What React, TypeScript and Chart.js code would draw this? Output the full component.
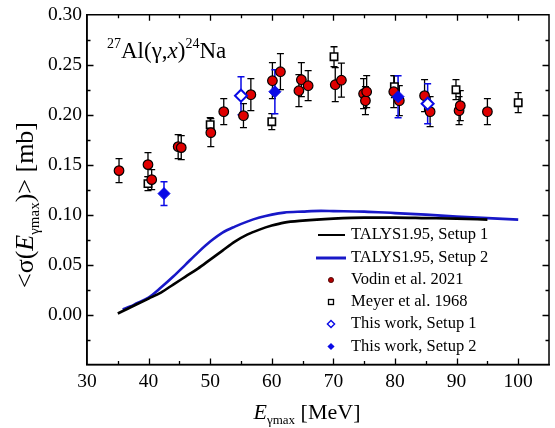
import React, { useEffect, useRef } from 'react';
import { Chart, registerables } from 'chart.js';

Chart.register(...registerables);

const FONT = '"Liberation Serif", "Times New Roman", serif';

// Axis ticks
const xTickValues = [30, 40, 50, 60, 70, 80, 90, 100];
const yTickValues = [-0.05, 0, 0.05, 0.1, 0.15, 0.2, 0.25, 0.3];

// TALYS1.95, Setup 1 (black curve)
const talys1E = [35, 36, 37, 38, 40, 42, 44, 46, 48, 50, 52, 54, 56, 58, 60, 62, 65, 70, 75, 80, 85, 90, 95];
const talys1V = [0.001, 0.004, 0.007, 0.010, 0.016, 0.022, 0.030, 0.038, 0.046, 0.055, 0.064, 0.073, 0.080, 0.085, 0.089, 0.092, 0.094, 0.096, 0.097, 0.097, 0.0965, 0.096, 0.095];

// TALYS1.95, Setup 2 (blue curve)
const talys2E = [35.8, 37, 38, 40, 42, 44, 46, 48, 50, 52, 54, 56, 58, 60, 62, 65, 68, 70, 75, 80, 85, 90, 95, 100];
const talys2V = [0.005, 0.008, 0.011, 0.017, 0.027, 0.038, 0.050, 0.062, 0.073, 0.082, 0.088, 0.093, 0.097, 0.100, 0.102, 0.103, 0.1037, 0.1035, 0.103, 0.1015, 0.100, 0.098, 0.0965, 0.095];

// Vodin et al. 2021
const vodinE = [35.2, 39.9, 40.5, 44.8, 45.3, 50.1, 52.2, 55.4, 56.6, 60.1, 61.4, 64.4, 64.8, 65.9, 70.3, 71.3, 74.9, 75.2, 75.4, 79.8, 80.7, 84.8, 85.7, 90.4, 90.6, 95.0];
const vodinV = [0.144, 0.150, 0.135, 0.168, 0.167, 0.182, 0.203, 0.199, 0.220, 0.234, 0.243, 0.224, 0.235, 0.229, 0.230, 0.2345, 0.221, 0.214, 0.223, 0.223, 0.214, 0.219, 0.203, 0.204, 0.209, 0.203];
const vodinErr = [0.012, 0.012, 0.010, 0.012, 0.012, 0.014, 0.013, 0.012, 0.016, 0.018, 0.018, 0.016, 0.017, 0.015, 0.017, 0.017, 0.015, 0.014, 0.016, 0.016, 0.015, 0.016, 0.015, 0.014, 0.015, 0.013];

// Meyer et al. 1968
const meyerE = [39.9, 50.0, 60.0, 70.1, 79.9, 89.9, 100.0];
const meyerV = [0.131, 0.190, 0.193, 0.258, 0.228, 0.225, 0.212];
const meyerErr = [0.007, 0.007, 0.008, 0.010, 0.011, 0.010, 0.010];

// This work, Setup 1
const setup1E = [55.0, 85.3];
const setup1V = [0.219, 0.211];
const setup1Err = [0.019, 0.020];

// This work, Setup 2
const setup2E = [42.5, 60.5, 80.5];
const setup2V = [0.121, 0.223, 0.218];
const setup2Err = [0.012, 0.022, 0.021];

const legendLabels = [
  'TALYS1.95, Setup 1',
  'TALYS1.95, Setup 2',
  'Vodin et al. 2021',
  'Meyer et al. 1968',
  'This work, Setup 1',
  'This work, Setup 2',
];

const RED = '#e00000';
const BLUE = '#0a0ae6';
const CURVE_BLUE = '#1818c8';

const pts = (xs: number[], ys: number[]) => xs.map((x, i) => ({ x, y: ys[i] }));

type Seg = { t: string; font: string; dy?: number };

function drawRich(ctx: CanvasRenderingContext2D, x: number, y: number, segs: Seg[], align: 'left' | 'center') {
  ctx.textBaseline = 'alphabetic';
  ctx.textAlign = 'left';
  let total = 0;
  for (const s of segs) {
    ctx.font = s.font;
    total += ctx.measureText(s.t).width;
  }
  let cx = align === 'center' ? x - total / 2 : x;
  for (const s of segs) {
    ctx.font = s.font;
    ctx.fillText(s.t, cx, y + (s.dy || 0));
    cx += ctx.measureText(s.t).width;
  }
}

const errorBarPlugin = {
  id: 'errorBars',
  beforeDatasetsDraw(chart: any) {
    const { ctx } = chart;
    const xs = chart.scales.x;
    const ys = chart.scales.y;
    chart.data.datasets.forEach((ds: any) => {
      if (!ds.errors) return;
      ctx.save();
      ctx.strokeStyle = ds.errorColor;
      ctx.lineWidth = ds.errorWidth;
      const cap = 3.5;
      ds.data.forEach((p: any, j: number) => {
        const px = xs.getPixelForValue(p.x);
        const y1 = ys.getPixelForValue(p.y + ds.errors[j]);
        const y2 = ys.getPixelForValue(p.y - ds.errors[j]);
        ctx.beginPath();
        ctx.moveTo(px, y1);
        ctx.lineTo(px, y2);
        ctx.moveTo(px - cap, y1);
        ctx.lineTo(px + cap, y1);
        ctx.moveTo(px - cap, y2);
        ctx.lineTo(px + cap, y2);
        ctx.stroke();
      });
      ctx.restore();
    });
  },
};

const framePlugin = {
  id: 'frameTicks',
  afterDatasetsDraw(chart: any) {
    const { ctx, chartArea } = chart;
    const { left, right, top, bottom } = chartArea;
    const xs = chart.scales.x;
    const ys = chart.scales.y;
    ctx.save();
    ctx.strokeStyle = '#000';
    ctx.lineWidth = 1.5;
    ctx.strokeRect(left, top, right - left, bottom - top);
    ctx.lineWidth = 1.3;
    ctx.beginPath();
    for (let v = 35; v < 105; v += 5) {
      const major = v % 10 === 0;
      const len = major ? 6 : 3.5;
      const px = Math.round(xs.getPixelForValue(v)) + 0.5;
      ctx.moveTo(px, bottom);
      ctx.lineTo(px, bottom - len);
      ctx.moveTo(px, top);
      ctx.lineTo(px, top + len);
    }
    for (let k = -1; k <= 11; k++) {
      const v = k * 0.025;
      const major = k % 2 === 0;
      const len = major ? 6.5 : 3.5;
      const py = Math.round(ys.getPixelForValue(v)) + 0.5;
      if (py <= top + 1 || py >= bottom - 1) continue;
      ctx.moveTo(left, py);
      ctx.lineTo(left + len, py);
      ctx.moveTo(right, py);
      ctx.lineTo(right - len, py);
    }
    ctx.stroke();
    ctx.restore();
  },
};

const textPlugin = {
  id: 'texts',
  afterDraw(chart: any) {
    const { ctx } = chart;
    ctx.save();
    ctx.fillStyle = '#000';

    // Reaction annotation
    drawRich(ctx, 107, 58, [
      { t: '27', font: `14px ${FONT}`, dy: -10 },
      { t: 'Al(γ,', font: `23px ${FONT}` },
      { t: 'x', font: `italic 23px ${FONT}` },
      { t: ')', font: `23px ${FONT}` },
      { t: '24', font: `14px ${FONT}`, dy: -10 },
      { t: 'Na', font: `23px ${FONT}` },
    ], 'left');

    // X axis title
    drawRich(ctx, 307, 419, [
      { t: 'E', font: `italic 22px ${FONT}` },
      { t: 'γmax', font: `13px ${FONT}`, dy: 5 },
      { t: ' [MeV]', font: `22px ${FONT}` },
    ], 'center');

    // Y axis title
    ctx.save();
    ctx.translate(33, 205);
    ctx.rotate(-Math.PI / 2);
    drawRich(ctx, 0, 0, [
      { t: '<σ(', font: `26px ${FONT}` },
      { t: 'E', font: `italic 26px ${FONT}` },
      { t: 'γmax', font: `15px ${FONT}`, dy: 6 },
      { t: ')> [mb]', font: `26px ${FONT}` },
    ], 'center');
    ctx.restore();

    // Legend
    const rows = [235, 258, 280, 302, 324, 346.5];
    const mx = 331;
    const tx = 351;
    ctx.textBaseline = 'middle';
    ctx.textAlign = 'left';
    ctx.font = `16.5px ${FONT}`;
    legendLabels.forEach((lab, i) => {
      ctx.fillStyle = '#000';
      ctx.fillText(lab, tx, rows[i]);
    });
    // line samples
    ctx.lineWidth = 2;
    ctx.strokeStyle = '#000';
    ctx.beginPath();
    ctx.moveTo(318, rows[0]);
    ctx.lineTo(345, rows[0]);
    ctx.stroke();
    ctx.lineWidth = 3;
    ctx.strokeStyle = CURVE_BLUE;
    ctx.beginPath();
    ctx.moveTo(316, rows[1]);
    ctx.lineTo(346, rows[1]);
    ctx.stroke();
    // red circle
    ctx.beginPath();
    ctx.arc(mx, rows[2], 2.6, 0, Math.PI * 2);
    ctx.fillStyle = '#b00000';
    ctx.fill();
    ctx.lineWidth = 0.8;
    ctx.strokeStyle = '#400000';
    ctx.stroke();
    // open square
    ctx.lineWidth = 1.3;
    ctx.strokeStyle = '#000';
    ctx.strokeRect(mx - 2.5, rows[3] - 2.5, 5, 5);
    // diamonds
    const diamond = (cy: number, r: number) => {
      ctx.beginPath();
      ctx.moveTo(mx, cy - r);
      ctx.lineTo(mx + r, cy);
      ctx.lineTo(mx, cy + r);
      ctx.lineTo(mx - r, cy);
      ctx.closePath();
    };
    diamond(rows[4], 3.6);
    ctx.lineWidth = 1.4;
    ctx.strokeStyle = BLUE;
    ctx.stroke();
    diamond(rows[5], 3.6);
    ctx.fillStyle = BLUE;
    ctx.fill();

    ctx.restore();
  },
};

export default function App() {
  const ref = useRef<HTMLCanvasElement | null>(null);

  useEffect(() => {
    if (!ref.current) return;
    const chart = new Chart(ref.current, {
      type: 'scatter',
      data: {
        datasets: [
          {
            label: legendLabels[0],
            data: pts(talys1E, talys1V),
            showLine: true,
            borderColor: '#000',
            borderWidth: 2.6,
            pointRadius: 0,
            cubicInterpolationMode: 'monotone',
            order: 5,
          } as any,
          {
            label: legendLabels[1],
            data: pts(talys2E, talys2V),
            showLine: true,
            borderColor: CURVE_BLUE,
            borderWidth: 2.6,
            pointRadius: 0,
            cubicInterpolationMode: 'monotone',
            order: 5,
          } as any,
          {
            label: legendLabels[2],
            data: pts(vodinE, vodinV),
            pointStyle: 'circle',
            pointRadius: 4.8,
            backgroundColor: RED,
            borderColor: '#000',
            borderWidth: 1.2,
            errors: vodinErr,
            errorColor: '#000',
            errorWidth: 1.3,
            order: 2,
          } as any,
          {
            label: legendLabels[3],
            data: pts(meyerE, meyerV),
            pointStyle: 'rect',
            pointRadius: 5.2,
            backgroundColor: '#fff',
            borderColor: '#000',
            borderWidth: 1.6,
            errors: meyerErr,
            errorColor: '#000',
            errorWidth: 1.3,
            order: 3,
          } as any,
          {
            label: legendLabels[4],
            data: pts(setup1E, setup1V),
            pointStyle: 'rectRot',
            pointRadius: 6,
            backgroundColor: '#fff',
            borderColor: BLUE,
            borderWidth: 2,
            errors: setup1Err,
            errorColor: BLUE,
            errorWidth: 1.5,
            order: 1,
          } as any,
          {
            label: legendLabels[5],
            data: pts(setup2E, setup2V),
            pointStyle: 'rectRot',
            pointRadius: 6,
            backgroundColor: BLUE,
            borderColor: BLUE,
            borderWidth: 1,
            errors: setup2Err,
            errorColor: BLUE,
            errorWidth: 1.5,
            order: 0,
          } as any,
        ],
      },
      options: {
        animation: false,
        responsive: false,
        devicePixelRatio: 1,
        layout: { padding: { top: 9, left: 0, right: 0, bottom: 0 } },
        plugins: {
          legend: { display: false },
          tooltip: { enabled: false },
        },
        scales: {
          x: {
            type: 'linear',
            min: 30,
            max: 105,
            grid: { display: false, drawTicks: false },
            border: { display: true, color: '#000', width: 1.5 },
            ticks: {
              font: { family: FONT, size: 19.5, lineHeight: 1 },
              color: '#000',
              padding: 8,
              maxRotation: 0,
              autoSkip: false,
              callback: (v: any) => String(v),
            },
            afterBuildTicks: (s: any) => {
              s.ticks = xTickValues.map((value) => ({ value }));
            },
            afterFit: (s: any) => {
              s.height = 63.5;
            },
          },
          y: {
            type: 'linear',
            min: -0.05,
            max: 0.3,
            grid: { display: false, drawTicks: false },
            border: { display: true, color: '#000', width: 1.5 },
            ticks: {
              font: { family: FONT, size: 19.5, lineHeight: 1 },
              color: '#000',
              padding: 5,
              autoSkip: false,
              callback: (v: any) => (Number(v) < -0.001 ? '' : Number(v).toFixed(2)),
            },
            afterBuildTicks: (s: any) => {
              s.ticks = yTickValues.map((value) => ({ value }));
            },
            afterFit: (s: any) => {
              s.width = 87;
            },
          },
        },
      } as any,
      plugins: [errorBarPlugin, framePlugin, textPlugin],
    });
    return () => chart.destroy();
  }, []);

  return (
    <div style={{ position: 'absolute', left: 0, top: 0, width: 555, height: 428, overflow: 'hidden', background: '#fff' }}>
      <canvas ref={ref} width={557} height={428} style={{ display: 'block', width: 557, height: 428 }} />
    </div>
  );
}
